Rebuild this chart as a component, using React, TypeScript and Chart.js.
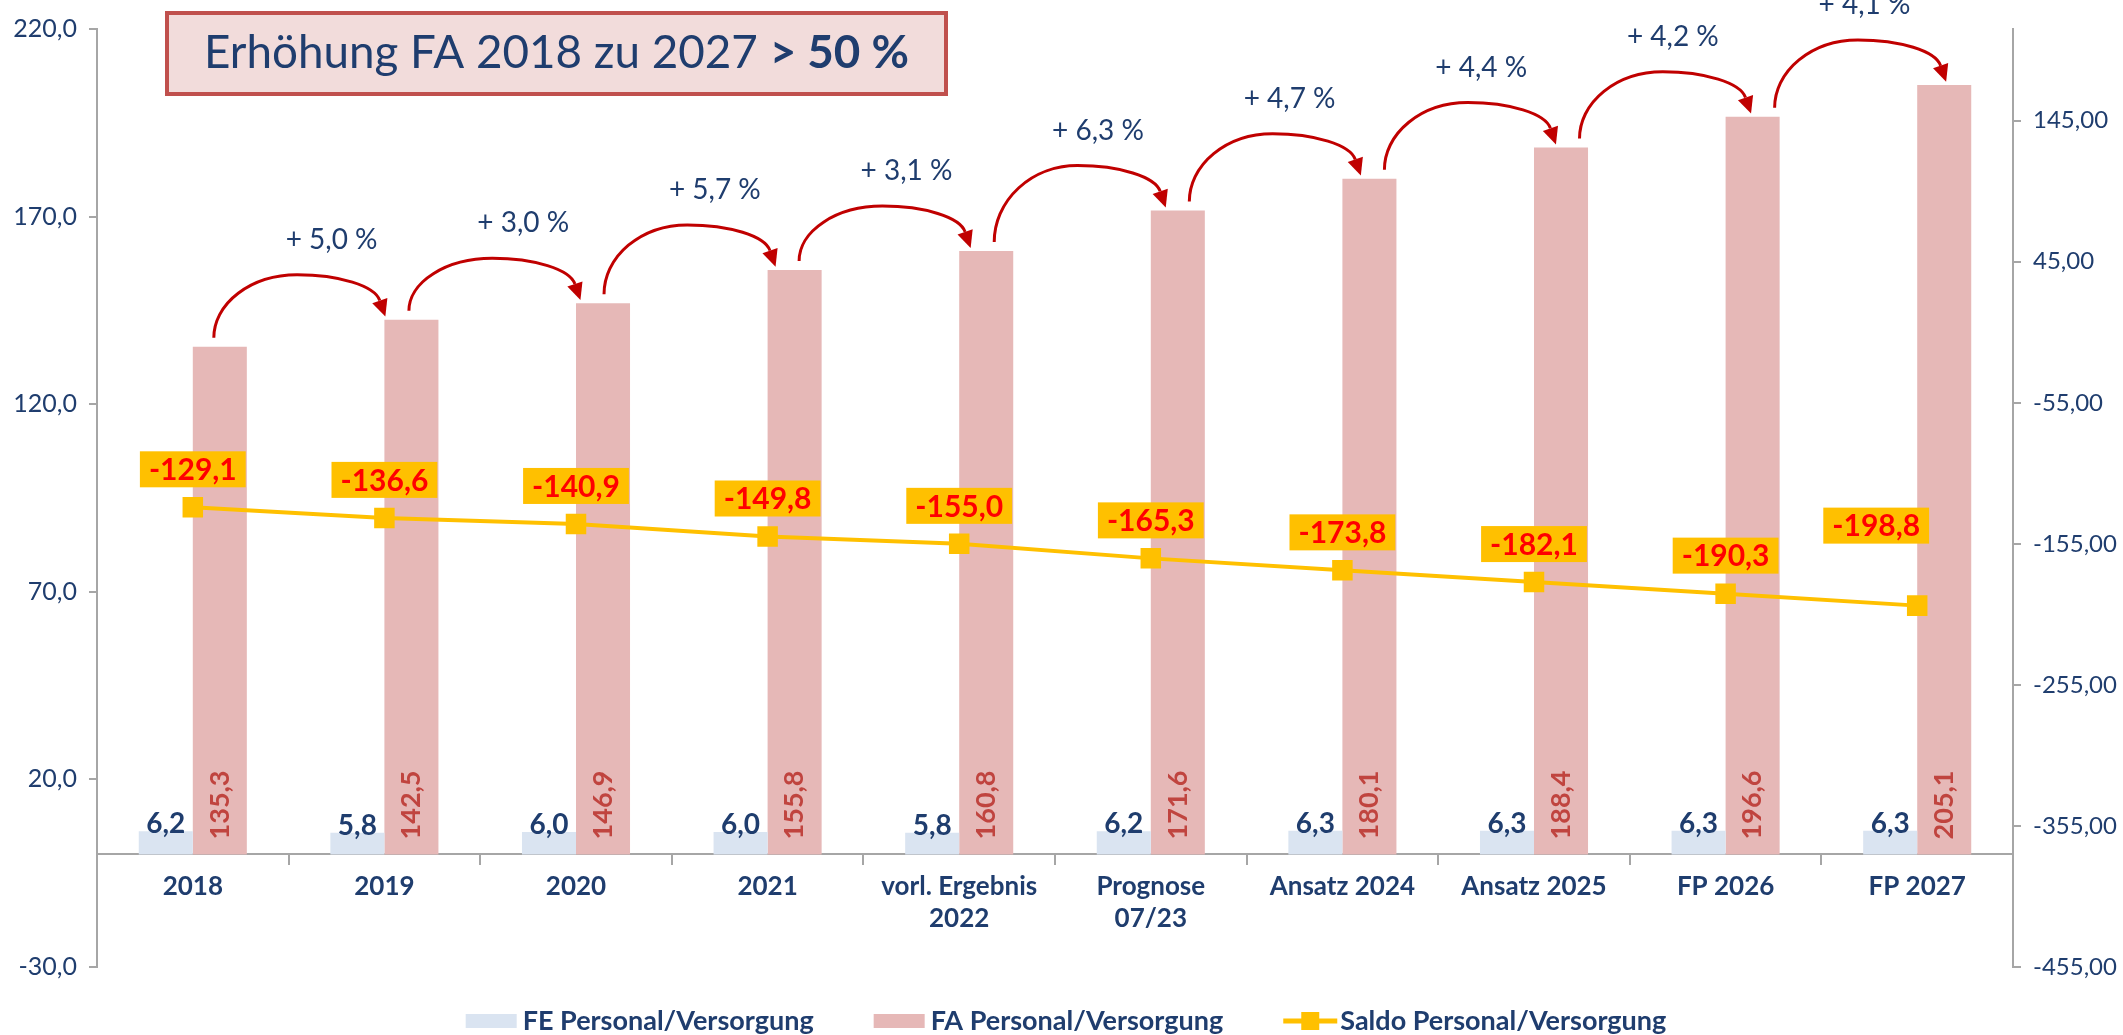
import React, { useEffect, useRef } from 'react';
import { Chart, registerables } from 'chart.js';

Chart.register(...registerables);

// ---------- data ----------
const categories: (string | string[])[] = [
  '2018',
  '2019',
  '2020',
  '2021',
  ['vorl. Ergebnis', '2022'],
  ['Prognose', '07/23'],
  'Ansatz 2024',
  'Ansatz 2025',
  'FP 2026',
  'FP 2027',
];
const feValues = [6.2, 5.8, 6.0, 6.0, 5.8, 6.2, 6.3, 6.3, 6.3, 6.3];
const faValues = [135.3, 142.5, 146.9, 155.8, 160.8, 171.6, 180.1, 188.4, 196.6, 205.1];
const saldoValues = [-129.1, -136.6, -140.9, -149.8, -155.0, -165.3, -173.8, -182.1, -190.3, -198.8];
const growthPct = [5.0, 3.0, 5.7, 3.1, 6.3, 4.7, 4.4, 4.2, 4.1];
const leftTicks = [-30, 20, 70, 120, 170, 220];
const rightTicks = [-455, -355, -255, -155, -55, 45, 145];
const seriesNames = ['FE Personal/Versorgung', 'FA Personal/Versorgung', 'Saldo Personal/Versorgung'];
const headlineRegular = 'Erhöhung FA 2018 zu 2027 ';
const headlineBold = '> 50 %';

// ---------- styles ----------
const W = 2123;
const H = 1035;
const FONT = 'Lato, "Open Sans", sans-serif';
const NAVY = '#1f3d6e';
const AXIS = '#a6a6a6';
const FE_COLOR = '#dae4f1';
const FA_COLOR = '#e6b8b7';
const SALDO_COLOR = '#ffc000';
const ARROW = '#c00000';

const fmt = (v: number, d: number) => v.toFixed(d).replace('.', ',');

const annotPlugin = {
  id: 'annot',
  afterDatasetsDraw(chart: any) {
    const ctx: CanvasRenderingContext2D = chart.ctx;
    const yS = chart.scales.y;
    const fe = chart.getDatasetMeta(0).data;
    const fa = chart.getDatasetMeta(1).data;
    const ln = chart.getDatasetMeta(2).data;
    ctx.save();

    // FE labels
    ctx.font = `bold 28px ${FONT}`;
    ctx.fillStyle = NAVY;
    ctx.textAlign = 'center';
    ctx.textBaseline = 'alphabetic';
    fe.forEach((b: any, i: number) => {
      ctx.fillText(fmt(feValues[i], 1), b.x, b.y + 2);
    });

    // FA labels rotated
    const zeroY = yS.getPixelForValue(0);
    fa.forEach((b: any, i: number) => {
      ctx.save();
      ctx.translate(b.x, zeroY - 15);
      ctx.rotate(-Math.PI / 2);
      ctx.font = `bold 27px ${FONT}`;
      ctx.fillStyle = '#c0443f';
      ctx.textAlign = 'left';
      ctx.textBaseline = 'middle';
      ctx.fillText(fmt(faValues[i], 1), 0, 0);
      ctx.restore();
    });

    // Saldo labels
    ln.forEach((p: any, i: number) => {
      let cx = p.x;
      let cy = p.y - 38;
      if (i === ln.length - 1) {
        cx -= 41;
        cy = p.y - 80;
      }
      ctx.font = `bold 30px ${FONT}`;
      const txt = fmt(saldoValues[i], 1);
      const tw = ctx.measureText(txt).width;
      const bw = tw + 18;
      const bh = 36;
      ctx.fillStyle = SALDO_COLOR;
      ctx.fillRect(cx - bw / 2, cy - bh / 2, bw, bh);
      ctx.fillStyle = '#ff0000';
      ctx.textAlign = 'center';
      ctx.textBaseline = 'middle';
      ctx.fillText(txt, cx, cy + 1);
    });

    // arrows + growth labels
    for (let i = 0; i < fa.length - 1; i++) {
      const a = fa[i];
      const b = fa[i + 1];
      const drift = 3.5 * i - 6;
      const x0 = a.x + drift;
      const y0 = a.y - 9;
      const x3 = b.x - 25 + drift;
      const y3 = b.y - 3;
      const peak = b.y - 45;
      const xm = (x0 + x3) / 2;
      const hl = 17;
      const hw = 8;
      const rx1 = xm - x0;
      const ry1 = y0 - peak;
      const rx2 = x3 - xm;
      const ry2 = Math.max(8, y3 - peak - hl * 0.75);
      const yc2 = peak + ry2;
      const te = 2 * Math.PI - 0.12;
      const ex = xm + rx2 * Math.cos(te);
      const ey = yc2 + ry2 * Math.sin(te);
      let tx = -rx2 * Math.sin(te);
      let ty = ry2 * Math.cos(te);
      const L = Math.hypot(tx, ty);
      tx /= L;
      ty /= L;
      ctx.strokeStyle = ARROW;
      ctx.lineWidth = 3;
      ctx.beginPath();
      ctx.ellipse(xm, y0, rx1, ry1, 0, Math.PI, 1.5 * Math.PI);
      ctx.ellipse(xm, yc2, rx2, ry2, 0, 1.5 * Math.PI, te);
      ctx.stroke();
      const tipx = ex + tx * hl;
      const tipy = ey + ty * hl;
      const nx = -ty;
      const ny = tx;
      ctx.fillStyle = ARROW;
      ctx.beginPath();
      ctx.moveTo(tipx, tipy);
      ctx.lineTo(ex + nx * hw, ey + ny * hw);
      ctx.lineTo(ex - nx * hw, ey - ny * hw);
      ctx.closePath();
      ctx.fill();

      ctx.font = `28px ${FONT}`;
      ctx.fillStyle = NAVY;
      ctx.textAlign = 'center';
      ctx.textBaseline = 'middle';
      ctx.fillText(`+ ${fmt(growthPct[i], 1)} %`, (a.x + b.x) / 2 + 16, b.y - 80);
    }
    ctx.restore();
  },
  afterDraw(chart: any) {
    const ctx: CanvasRenderingContext2D = chart.ctx;
    ctx.save();
    // headline box
    const bx = 167, by = 13, bw = 779, bh = 81;
    ctx.fillStyle = '#f2dcdb';
    ctx.fillRect(bx, by, bw, bh);
    ctx.strokeStyle = '#c0504d';
    ctx.lineWidth = 4;
    ctx.strokeRect(bx, by, bw, bh);
    ctx.font = `46px ${FONT}`;
    const w1 = ctx.measureText(headlineRegular).width;
    ctx.font = `bold 46px ${FONT}`;
    const w2 = ctx.measureText(headlineBold).width;
    const target = 705;
    const sx = target / (w1 + w2);
    ctx.translate(204, 68);
    ctx.scale(sx, 1);
    ctx.fillStyle = NAVY;
    ctx.textAlign = 'left';
    ctx.textBaseline = 'alphabetic';
    ctx.font = `46px ${FONT}`;
    ctx.fillText(headlineRegular, 0, 0);
    ctx.font = `bold 46px ${FONT}`;
    ctx.fillText(headlineBold, w1, 0);
    ctx.restore();

    // legend
    ctx.save();
    ctx.font = `bold 27px ${FONT}`;
    const markW = 51;
    const gapText = 6;
    const gapItem = 60;
    const widths = seriesNames.map((n) => ctx.measureText(n).width);
    const total = widths.reduce((s, w) => s + w + markW + gapText, 0) + gapItem * (seriesNames.length - 1);
    let x = 1066 - total / 2;
    const ly = 1021;
    const colors = [FE_COLOR, FA_COLOR, SALDO_COLOR];
    seriesNames.forEach((n, i) => {
      if (i < 2) {
        ctx.fillStyle = colors[i];
        ctx.fillRect(x, ly - 7, markW, 14);
      } else {
        ctx.strokeStyle = SALDO_COLOR;
        ctx.lineWidth = 5;
        ctx.beginPath();
        ctx.moveTo(x, ly);
        ctx.lineTo(x + markW + 3, ly);
        ctx.stroke();
        ctx.fillStyle = SALDO_COLOR;
        ctx.fillRect(x + (markW + 3) / 2 - 9, ly - 9, 18, 18);
      }
      x += markW + gapText;
      ctx.fillStyle = NAVY;
      ctx.textAlign = 'left';
      ctx.textBaseline = 'middle';
      ctx.fillText(n, x, ly);
      x += widths[i] + gapItem;
    });
    ctx.restore();
  },
};

export default function App() {
  const ref = useRef<HTMLCanvasElement>(null);
  useEffect(() => {
    const canvas = ref.current;
    if (!canvas) return;
    const chart = new Chart(canvas, {
      type: 'bar',
      data: {
        labels: categories,
        datasets: [
          {
            label: seriesNames[0],
            data: feValues,
            backgroundColor: FE_COLOR,
            yAxisID: 'y',
            order: 2,
            barPercentage: 1,
            categoryPercentage: 0.564,
          },
          {
            label: seriesNames[1],
            data: faValues,
            backgroundColor: FA_COLOR,
            yAxisID: 'y',
            order: 2,
            barPercentage: 1,
            categoryPercentage: 0.564,
          },
          {
            type: 'line',
            label: seriesNames[2],
            data: saldoValues,
            yAxisID: 'y1',
            borderColor: SALDO_COLOR,
            backgroundColor: SALDO_COLOR,
            borderWidth: 4,
            pointStyle: 'rect',
            pointRadius: 14.5,
            pointBorderWidth: 0,
            order: 1,
          } as any,
        ],
      },
      options: {
        responsive: false,
        animation: false,
        devicePixelRatio: 1,
        layout: { padding: { top: 29, bottom: 68, left: 0, right: 0 } },
        plugins: {
          legend: { display: false },
          tooltip: { enabled: false },
        },
        scales: {
          x: {
            position: { y: 0 } as any,
            offset: true,
            grid: {
              display: true,
              drawOnChartArea: false,
              drawTicks: true,
              tickLength: 10,
              offset: true,
              color: AXIS,
              lineWidth: 2,
            },
            border: { display: true, color: AXIS, width: 2 },
            ticks: {
              color: NAVY,
              font: { family: FONT, size: 26, weight: 'bold', lineHeight: 1.2 },
              padding: 7,
              maxRotation: 0,
              autoSkip: false,
            },
          },
          y: {
            position: 'left',
            min: -30,
            max: 220,
            afterBuildTicks: (s: any) => {
              s.ticks = leftTicks.map((v) => ({ value: v }));
            },
            afterFit: (s: any) => {
              s.width = 97;
            },
            grid: { drawOnChartArea: false, tickLength: 8, color: AXIS, lineWidth: 2 },
            border: { display: true, color: AXIS, width: 2 },
            ticks: {
              color: NAVY,
              font: { family: FONT, size: 25 },
              padding: 12,
              callback: (v: any) => fmt(Number(v), 1),
            },
          },
          y1: {
            position: 'right',
            min: -455,
            max: 210,
            afterBuildTicks: (s: any) => {
              s.ticks = rightTicks.map((v) => ({ value: v }));
            },
            afterFit: (s: any) => {
              s.width = 110;
            },
            grid: { drawOnChartArea: false, tickLength: 8, color: AXIS, lineWidth: 2 },
            border: { display: true, color: AXIS, width: 2 },
            ticks: {
              color: NAVY,
              font: { family: FONT, size: 24 },
              padding: 12,
              callback: (v: any) => fmt(Number(v), 2),
            },
          },
        },
      } as any,
      plugins: [annotPlugin],
    });
    return () => chart.destroy();
  }, []);

  return (
    <div style={{ position: 'absolute', left: 0, top: 0, width: W, height: H, background: '#fff' }}>
      <canvas ref={ref} width={W} height={H} style={{ display: 'block', width: W, height: H }} />
    </div>
  );
}
